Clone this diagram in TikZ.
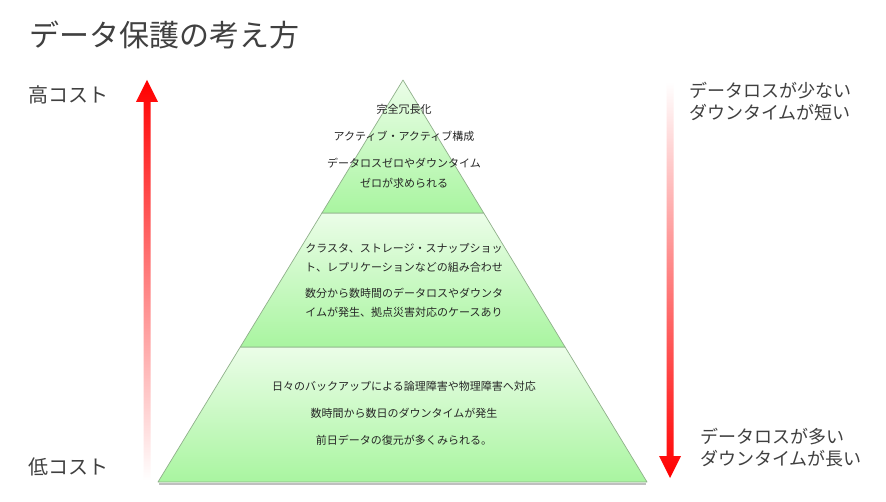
\documentclass[tikz,border=0pt]{standalone}
\usepackage{fontspec}
\setmainfont{Noto Sans CJK JP}
\usetikzlibrary{calc}
\definecolor{txtgray}{HTML}{404040}
\definecolor{pyrtop}{HTML}{EBFDE8}
\definecolor{pyrbot}{HTML}{A9F5A0}
\definecolor{pyredge}{HTML}{8FB08A}
\definecolor{arrred}{HTML}{FF0000}
\tikzset{
  layer/.style={top color=pyrtop, bottom color=pyrbot, draw=pyredge, line width=0.7pt, line join=round},
  ptext/.style={font=\fontsize{11}{19}\selectfont, text=black!85, align=center, inner sep=0pt},
  sidelabel/.style={font=\fontsize{18}{22}\selectfont, text=txtgray, align=left, inner sep=0pt, anchor=west},
  costlabel/.style={font=\fontsize{20}{24}\selectfont, text=txtgray, inner sep=0pt, anchor=west},
}
\begin{document}
\begin{tikzpicture}[x=1pt,y=-1pt]
\useasboundingbox (0,0) rectangle (886,502);
\fill[white] (0,0) rectangle (886,502);

% title
\node[font=\fontsize{30}{36}\selectfont, text=txtgray, anchor=west, inner sep=0pt] (title) at (29,35) {データ保護の考え方};

% pyramid geometry
\coordinate (apex) at (403,80);
\coordinate (bl) at (158,482);
\coordinate (br) at (647,482);
\coordinate (l1) at ($(apex)!0.3308!(bl)$);
\coordinate (r1) at ($(apex)!0.3308!(br)$);
\coordinate (l2) at ($(apex)!0.6642!(bl)$);
\coordinate (r2) at ($(apex)!0.6642!(br)$);

% shadow under base
\draw[black, opacity=0.25, line width=1.5pt] ($(bl)+(1,2)$) -- ($(br)+(-1,2)$);

\shade[layer] (l2) -- (r2) -- (br) -- (bl) -- cycle;
\shade[layer] (l1) -- (r1) -- (r2) -- (l2) -- cycle;
\shade[layer] (apex) -- (r1) -- (l1) -- cycle;

% pyramid texts
\node[ptext] (t1) at (404,109) {完全冗長化};
\node[ptext] (t2) at (404,136) {アクティブ・アクティブ構成};
\node[ptext, font=\fontsize{11}{20}\selectfont] (t3) at (404,173) {データロスゼロやダウンタイム\\ゼロが求められる};
\node[ptext] (m1) at (404,257.5) {クラスタ、ストレージ・スナップショッ\\ト、レプリケーションなどの組み合わせ};
\node[ptext] (m2) at (404,302.5) {数分から数時間のデータロスやダウンタ\\イムが発生、拠点災害対応のケースあり};
\node[ptext] (b1) at (404,386) {日々のバックアップによる論理障害や物理障害へ対応};
\node[ptext] (b2) at (404,413) {数時間から数日のダウンタイムが発生};
\node[ptext] (b3) at (404,440) {前日データの復元が多くみられる。};

% left arrow (up, fading downward)
\shade[top color=arrred, middle color=arrred, bottom color=white]
  (147,80) -- (158,102) -- (150.5,102) -- (150.5,480) -- (143.5,480) -- (143.5,102) -- (136,102) -- cycle;

% right arrow (down, fading upward)
\shade[top color=white, middle color=arrred, bottom color=arrred]
  (670,478) -- (681,456) -- (673.5,456) -- (673.5,82) -- (666.5,82) -- (666.5,456) -- (659,456) -- cycle;

% labels
\node[costlabel] (high) at (28,95) {高コスト};
\node[costlabel] (low) at (28,467) {低コスト};
\node[sidelabel] (rtop) at (689,102) {データロスが少ない\\ダウンタイムが短い};
\node[sidelabel] (rbot) at (700,448) {データロスが多い\\ダウンタイムが長い};
\end{tikzpicture}
\end{document}
